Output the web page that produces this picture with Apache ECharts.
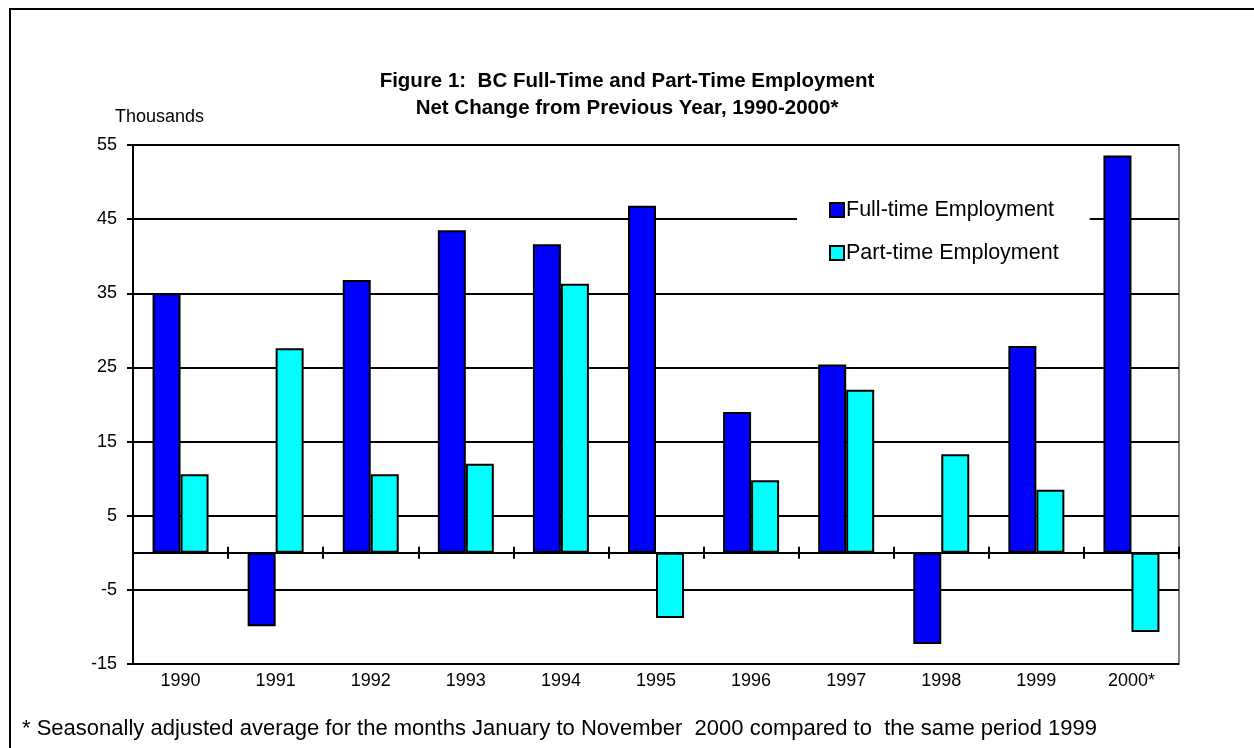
<!DOCTYPE html>
<html>
<head>
<meta charset="utf-8">
<script src="https://cdn.jsdelivr.net/npm/echarts@6/dist/echarts.min.js"></script>
<style>
  html, body { margin: 0; padding: 0; background: #fff; }
  #chart { width: 1254px; height: 748px; }
</style>
</head>
<body>
<div id="chart"></div>
<script>
// Net change in BC employment from the previous year (thousands)
const years = ['1990', '1991', '1992', '1993', '1994', '1995', '1996', '1997', '1998', '1999', '2000*'];
const fullTime = [35.0, -9.9, 36.8, 43.5, 41.6, 46.8, 19.0, 25.4, -12.3, 27.9, 53.6];
const partTime = [10.6, 27.6, 10.6, 12.0, 36.3, -8.8, 9.8, 22.0, 13.3, 8.5, -10.7];
const yTicks = [-15, -5, 5, 15, 25, 35, 45, 55];

const FONT = 'Arial, "Liberation Sans", Helvetica, sans-serif';
const chart = echarts.init(document.getElementById('chart'), null, { renderer: 'canvas' });

const yRange = { min: yTicks[0], max: yTicks[yTicks.length - 1], interval: yTicks[1] - yTicks[0] };

chart.setOption({
  backgroundColor: '#ffffff',
  animation: false,
  textStyle: { fontFamily: FONT, color: '#000' },
  title: {
    text: 'Figure 1:  BC Full-Time and Part-Time Employment\nNet Change from Previous Year, 1990-2000*',
    left: 'center',
    top: 63,
    textStyle: { fontFamily: FONT, fontSize: 20.5, fontWeight: 'bold', color: '#000', lineHeight: 27 }
  },
  legend: {
    orient: 'vertical',
    left: 797,
    top: 183,
    icon: 'rect',
    itemWidth: 14,
    itemHeight: 14,
    itemGap: 21,
    padding: [16, 31, 16, 32],
    backgroundColor: '#ffffff',
    textStyle: { fontFamily: FONT, fontSize: 21.5, color: '#000', padding: [0, 0, 0, -3] },
    data: ['Full-time Employment', 'Part-time Employment'],
    z: 10
  },
  grid: {
    left: 133, right: 75, top: 145, bottom: 84,
    show: true, borderColor: '#808080', borderWidth: 2, backgroundColor: 'transparent'
  },
  xAxis: [
    {
      // category labels along the bottom edge
      type: 'category', data: years, position: 'bottom',
      axisLine: { show: false, onZero: false },
      axisTick: { show: false },
      axisLabel: { fontFamily: FONT, fontSize: 18, color: '#000', margin: 8 },
      splitLine: { show: false }
    },
    {
      // zero line with tick marks below it
      type: 'category', data: years, position: 'bottom',
      axisLine: { show: true, onZero: true, onZeroAxisIndex: 0, lineStyle: { color: '#000', width: 2 } },
      axisTick: { show: true, inside: false, length: 6, lineStyle: { color: '#000', width: 2 } },
      axisLabel: { show: false },
      splitLine: { show: false }
    },
    {
      // tick marks above the zero line
      type: 'category', data: years, position: 'bottom',
      axisLine: { show: false, onZero: true, onZeroAxisIndex: 1 },
      axisTick: { show: true, inside: true, length: 6, lineStyle: { color: '#000', width: 2 } },
      axisLabel: { show: false },
      splitLine: { show: false }
    }
  ],
  yAxis: [
    {
      type: 'value', min: yRange.min, max: yRange.max, interval: yRange.interval,
      name: 'Thousands', nameLocation: 'end', nameGap: 19,
      nameTextStyle: { fontFamily: FONT, fontSize: 18, color: '#000', align: 'left', padding: [0, 0, 0, -18] },
      axisLine: { show: true, onZero: false, lineStyle: { color: '#000', width: 2 } },
      axisTick: { show: true, length: 6, lineStyle: { color: '#000', width: 2 } },
      axisLabel: { fontFamily: FONT, fontSize: 18, color: '#000', margin: 16 },
      splitLine: { show: true, lineStyle: { color: '#000', width: 2 } }
    },
    {
      type: 'value', min: yRange.min, max: yRange.max, interval: yRange.interval,
      show: false, splitLine: { show: false }
    }
  ],
  series: [
    {
      name: 'Full-time Employment', type: 'bar', xAxisIndex: 0, yAxisIndex: 0,
      data: fullTime, barWidth: 28, barGap: '0%',
      itemStyle: { color: '#0000ff', borderColor: '#000', borderWidth: 2 },
      z: 3
    },
    {
      name: 'Part-time Employment', type: 'bar', xAxisIndex: 0, yAxisIndex: 0,
      data: partTime, barWidth: 28, barGap: '0%',
      itemStyle: { color: '#00ffff', borderColor: '#000', borderWidth: 2 },
      z: 3
    }
  ],
  graphic: [
    { type: 'line', shape: { x1: 9, y1: 9, x2: 1254, y2: 9 }, style: { stroke: '#000', lineWidth: 2 } },
    { type: 'line', shape: { x1: 10, y1: 8, x2: 10, y2: 748 }, style: { stroke: '#000', lineWidth: 2 } },
    {
      type: 'text', left: 22, top: 718,
      style: {
        text: '* Seasonally adjusted average for the months January to November  2000 compared to  the same period 1999',
        fontFamily: FONT, fontSize: 22, fill: '#000'
      }
    }
  ]
});
</script>
</body>
</html>
